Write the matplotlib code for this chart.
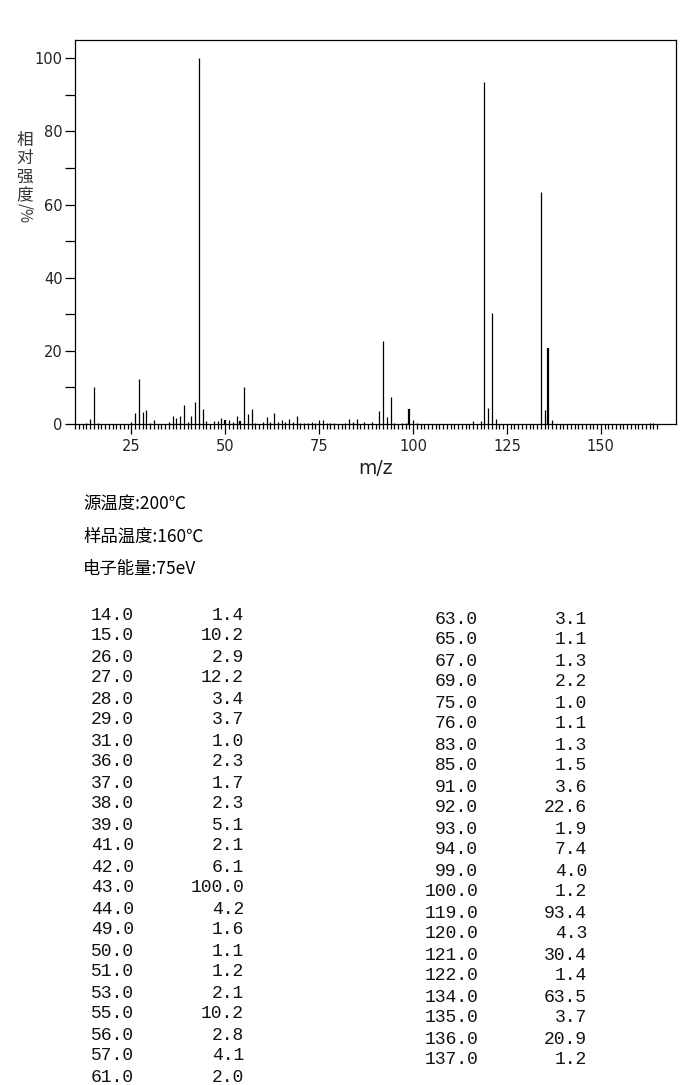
import matplotlib
matplotlib.use("Agg")
import matplotlib.pyplot as plt
from matplotlib.ticker import FixedLocator
import numpy as np

# ---- data ----
table_mz_left = [14.0, 15.0, 26.0, 27.0, 28.0, 29.0, 31.0, 36.0, 37.0, 38.0, 39.0, 41.0,
                 42.0, 43.0, 44.0, 49.0, 50.0, 51.0, 53.0, 55.0, 56.0, 57.0, 61.0]
table_int_left = [1.4, 10.2, 2.9, 12.2, 3.4, 3.7, 1.0, 2.3, 1.7, 2.3, 5.1, 2.1,
                  6.1, 100.0, 4.2, 1.6, 1.1, 1.2, 2.1, 10.2, 2.8, 4.1, 2.0]
table_mz_right = [63.0, 65.0, 67.0, 69.0, 75.0, 76.0, 83.0, 85.0, 91.0, 92.0, 93.0,
                  94.0, 99.0, 100.0, 119.0, 120.0, 121.0, 122.0, 134.0, 135.0, 136.0, 137.0]
table_int_right = [3.1, 1.1, 1.3, 2.2, 1.0, 1.1, 1.3, 1.5, 3.6, 22.6, 1.9,
                   7.4, 4.0, 1.2, 93.4, 4.3, 30.4, 1.4, 63.5, 3.7, 20.9, 1.2]
# small peaks (<1 %) visible in the spectrum but not listed in the table
minor_mz = [13, 16, 25, 30, 35, 40, 45, 47, 48, 52, 54, 58, 60, 62, 64, 66, 68, 70, 71,
            72, 73, 74, 77, 78, 79, 82, 84, 87, 89, 95, 97, 98, 101, 116, 118, 163, 164]
minor_int = [0.4, 0.3, 0.6, 0.4, 0.5, 0.6, 0.8, 0.8, 0.8, 0.5, 0.8, 0.4, 0.6, 0.5, 0.6,
             0.5, 0.5, 0.3, 0.3, 0.3, 0.6, 0.4, 0.4, 0.3, 0.3, 0.4, 0.5, 0.5, 0.6, 0.2,
             0.3, 0.3, 0.3, 0.7, 0.7, 0.3, 0.3]
bold_mz = [50, 54, 99, 136]

header_lines = ["源温度:200℃", "样品温度:160℃", "电子能量:75eV"]
ylabel_chars = ["相", "对", "强", "度"]
ylabel_tail = "/%"
xlabel = "m/z"
x_major = [25, 50, 75, 100, 125, 150]
y_major = [0, 20, 40, 60, 80, 100]

W, H = 687, 1085
fig = plt.figure(figsize=(W / 100, H / 100), dpi=100)
fig.patch.set_facecolor("white")

def fx(px):
    return px / W

def fy(py):
    return 1 - py / H

ax = fig.add_axes([fx(75), fy(424), fx(676) - fx(75), (424 - 40) / H])

all_mz = table_mz_left + table_mz_right + minor_mz
all_int = table_int_left + table_int_right + minor_int
for m, v in zip(all_mz, all_int):
    lw = 1.6 if m in bold_mz else 0.9
    ax.vlines(m, 0, v, color="black", linewidth=lw)

ax.set_xlim(10, 170)
ax.set_ylim(0, 105)
for s in ax.spines.values():
    s.set_color("black")
    s.set_linewidth(0.9)

ax.xaxis.set_major_locator(FixedLocator(x_major))
ax.xaxis.set_minor_locator(FixedLocator(np.arange(10, 166, 1)))
ax.yaxis.set_major_locator(FixedLocator(y_major))
ax.yaxis.set_minor_locator(FixedLocator([10, 30, 50, 70, 90]))
ax.tick_params(axis="x", which="major", direction="out", length=7, width=0.9,
               labelsize=10.5, pad=4, color="black", labelcolor="#222222")
ax.tick_params(axis="x", which="minor", direction="out", length=3.6, width=0.9, color="black")
ax.tick_params(axis="y", which="major", direction="out", length=7, width=0.9,
               labelsize=10.5, pad=2, color="black", labelcolor="#222222")
ax.tick_params(axis="y", which="minor", direction="out", length=7, width=0.9, color="black")
ax.set_xticklabels([str(v) for v in x_major])
ax.set_yticklabels([str(v) for v in y_major])

cjk = ["Noto Sans CJK SC", "DejaVu Sans"]

# y label: stacked upright CJK characters + rotated tail
for i, ch in enumerate(ylabel_chars):
    fig.text(fx(25), fy(140.5 + i * 18.3), ch, family=cjk, fontsize=12,
             ha="center", va="center", color="#333333")
fig.text(fx(25), fy(213.5), ylabel_tail, family=cjk, fontsize=11, rotation=-90,
         ha="center", va="center", color="#333333")

fig.text(fx(376), fy(469), xlabel, family="DejaVu Sans", fontsize=13.5,
         ha="center", va="center", color="#222222")

# header info
for i, line in enumerate(header_lines):
    fig.text(fx(83), fy(505 + i * 32), line, family=cjk, fontsize=12.5,
             ha="left", va="center", color="black")

# table
mono = "Liberation Mono"
tc = "#111111"
for i, (m, v) in enumerate(zip(table_mz_left, table_int_left)):
    y = 615 + i * 21 + (1 if i == len(table_mz_left) - 1 else 0)
    fig.text(fx(134), fy(y), f"{m:.1f}", family=mono, fontsize=13, ha="right",
             va="center", color=tc)
    fig.text(fx(244), fy(y), f"{v:.1f}", family=mono, fontsize=13, ha="right",
             va="center", color=tc)
for i, (m, v) in enumerate(zip(table_mz_right, table_int_right)):
    y = 619 + i * 21
    fig.text(fx(478), fy(y), f"{m:.1f}", family=mono, fontsize=13, ha="right",
             va="center", color=tc)
    fig.text(fx(587), fy(y), f"{v:.1f}", family=mono, fontsize=13, ha="right",
             va="center", color=tc)

fig.savefig("out.png", dpi=100, facecolor="white")
